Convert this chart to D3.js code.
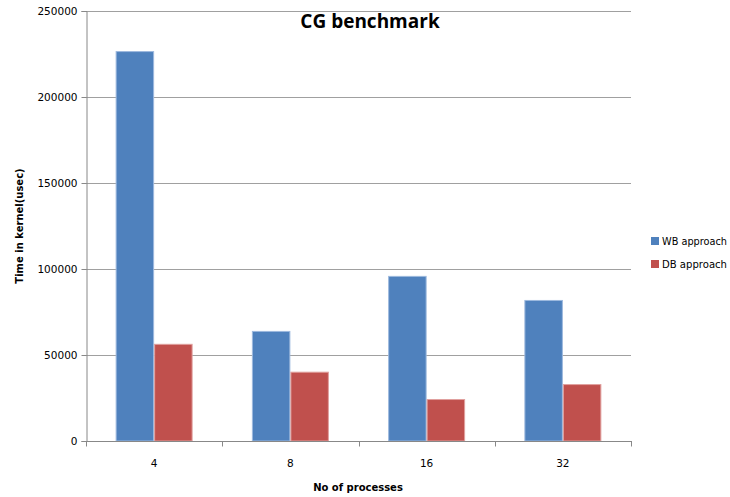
<!DOCTYPE html>
<html><head><meta charset="utf-8">
<script src="https://cdn.jsdelivr.net/npm/d3@7"></script>
<style>body{margin:0;background:#fff}svg{display:block}</style>
</head><body><svg id="c" width="730" height="497"></svg>
<script>
const categories = ["4", "8", "16", "32"];
const seriesNames = ["WB approach", "DB approach"];
const wbValues = [226700, 64000, 96000, 82000];
const dbValues = [56500, 40300, 24400, 33100];
const yTicks = [0, 50000, 100000, 150000, 200000, 250000];
const colors = ["#4F81BD", "#C0504D"];
const strokes = ["#9DB9DE", "#E0A09E"];

const svg = d3.select("#c");
const L = 86, R = 631, T = 11, B = 441;
const x = d3.scaleBand().domain(categories).range([L, R]).paddingInner(0.435).paddingOuter(0.2175);
const xs = d3.scaleBand().domain(seriesNames).range([0, x.bandwidth()]);
const y = d3.scaleLinear().domain([0, 250000]).range([B, T]);
const font = "DejaVu Sans, Verdana, sans-serif";

// gridlines
svg.append("g").selectAll("line").data(yTicks.filter(d => d > 0)).join("line")
  .attr("x1", L).attr("x2", R).attr("y1", d => Math.round(y(d)) + 0.5).attr("y2", d => Math.round(y(d)) + 0.5)
  .attr("stroke", "#a0a0a0").attr("stroke-width", 1);

// bars
const data = [wbValues, dbValues];
seriesNames.forEach((s, si) => {
  svg.append("g").selectAll("rect").data(categories).join("rect")
    .attr("x", c => x(c) + xs(s) + 0.5)
    .attr("y", (c, i) => y(data[si][i]) + 0.5)
    .attr("width", xs.bandwidth() - 1)
    .attr("height", (c, i) => B - y(data[si][i]) - 0.5)
    .attr("fill", colors[si]).attr("stroke", strokes[si]).attr("stroke-width", 1);
});

// y axis
const yAxis = d3.axisLeft(y).tickValues(yTicks).tickSize(5).tickPadding(4).tickFormat(d3.format("d"));
const gy = svg.append("g").attr("transform", `translate(${L + 0.5},0)`).call(yAxis);
gy.selectAll("text").attr("font-family", font).attr("font-size", 10.5).attr("fill", "#000");
gy.selectAll("line,path").attr("stroke", "#888");

// x axis
const gx = svg.append("g").attr("transform", `translate(0,${B + 0.5})`);
gx.append("line").attr("x1", L).attr("x2", R + 1).attr("stroke", "#888");
const bounds = [0, 1, 2, 3, 4].map(i => L + i * (R - L) / 4);
gx.selectAll("line.t").data(bounds).join("line").attr("class", "t")
  .attr("x1", d => Math.round(d) + 0.5).attr("x2", d => Math.round(d) + 0.5).attr("y1", 0).attr("y2", 5).attr("stroke", "#888");
gx.selectAll("text").data(categories).join("text")
  .attr("x", c => x(c) + x.bandwidth() / 2).attr("y", 25).attr("text-anchor", "middle")
  .attr("font-family", font).attr("font-size", 10.5).text(c => c);

// titles
svg.append("text").attr("x", 370).attr("y", 28).attr("text-anchor", "middle")
  .attr("font-family", "Open Sans, Liberation Sans, sans-serif").attr("font-weight", "bold").attr("font-size", 19)
  .text("CG benchmark");
svg.append("text").attr("x", 358).attr("y", 491).attr("text-anchor", "middle")
  .attr("font-family", font).attr("font-weight", "bold").attr("font-size", 10).text("No of processes");
svg.append("text").attr("transform", "translate(23,226) rotate(-90)").attr("text-anchor", "middle")
  .attr("font-family", font).attr("font-weight", "bold").attr("font-size", 10).text("Time in kernel(usec)");

// legend
const lg = svg.append("g").attr("transform", "translate(651,237)");
seriesNames.forEach((s, i) => {
  lg.append("rect").attr("x", 0).attr("y", i * 23).attr("width", 8).attr("height", 8).attr("fill", colors[i]);
  lg.append("text").attr("x", 11).attr("y", i * 23 + 8).attr("font-family", font).attr("font-size", 10)
    .attr("textLength", 65).attr("lengthAdjust", "spacingAndGlyphs").text(s);
});
</script></body></html>
